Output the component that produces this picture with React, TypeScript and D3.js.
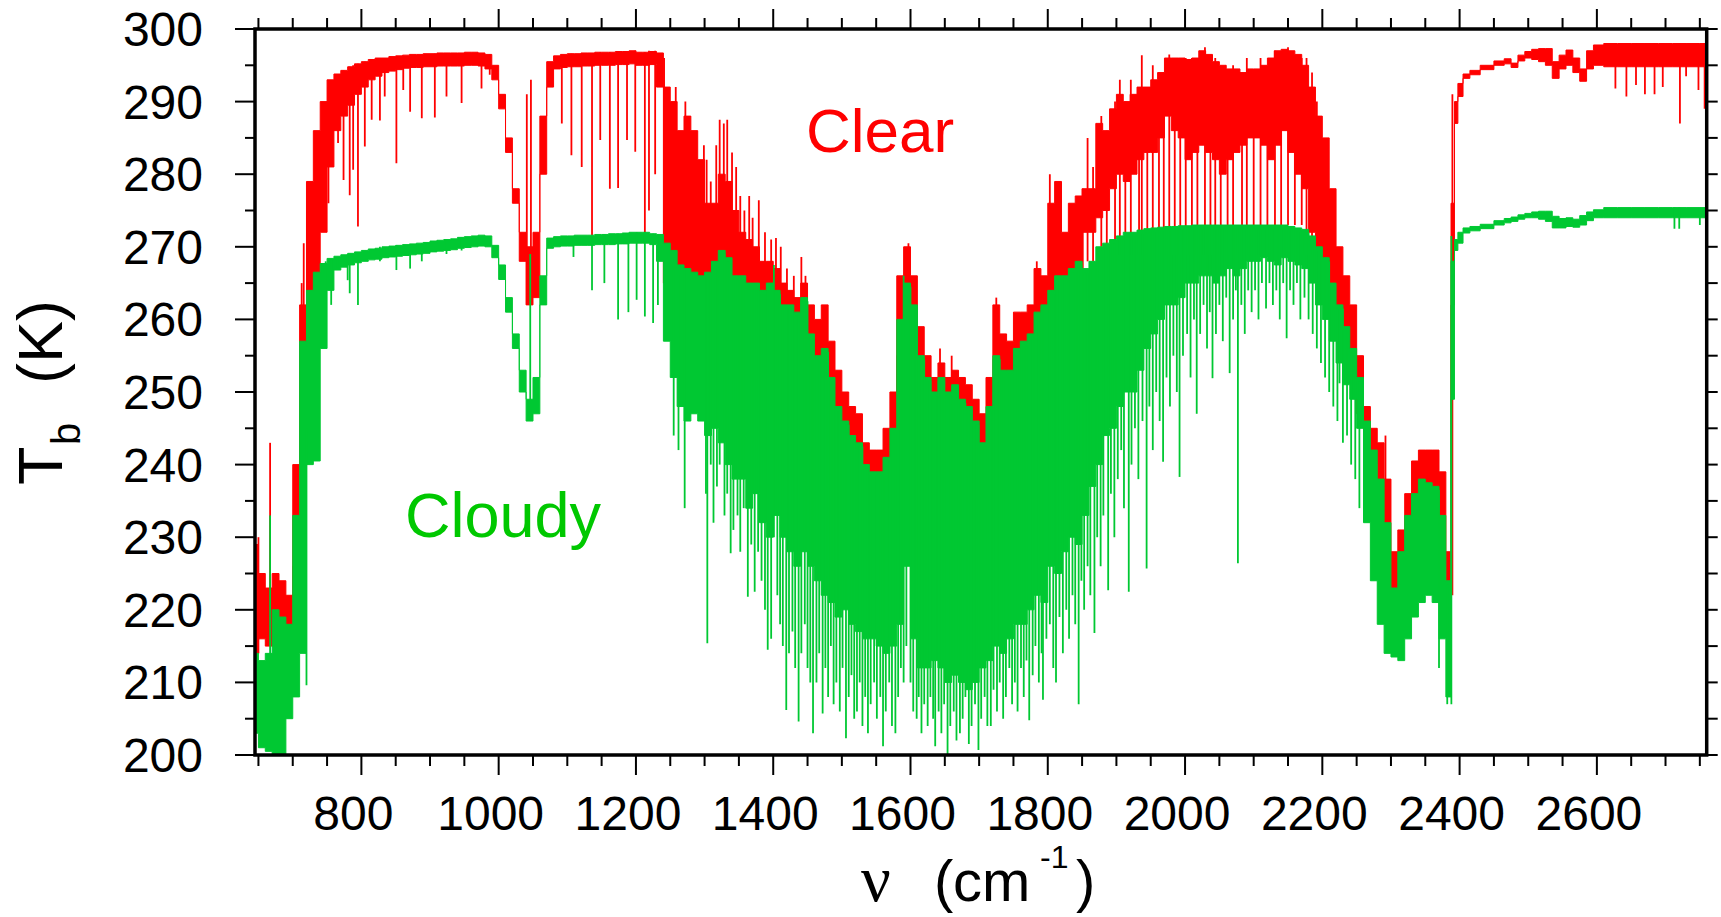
import React from "react";
import * as d3 from "d3";

// wavenumber grid (cm-1), one value per bin
const wavenumber = [
  645, 655, 665, 675, 685, 695, 705, 715, 725, 735,
  745, 755, 765, 775, 785, 795, 805, 815, 825, 835,
  845, 855, 865, 875, 885, 895, 905, 915, 925, 935,
  945, 955, 965, 975, 985, 995, 1005, 1015, 1025, 1035,
  1045, 1055, 1065, 1075, 1085, 1095, 1105, 1115, 1125, 1135,
  1145, 1155, 1165, 1175, 1185, 1195, 1205, 1215, 1225, 1235,
  1245, 1255, 1265, 1275, 1285, 1295, 1305, 1315, 1325, 1335,
  1345, 1355, 1365, 1375, 1385, 1395, 1405, 1415, 1425, 1435,
  1445, 1455, 1465, 1475, 1485, 1495, 1505, 1515, 1525, 1535,
  1545, 1555, 1565, 1575, 1585, 1595, 1605, 1615, 1625, 1635,
  1645, 1655, 1665, 1675, 1685, 1695, 1705, 1715, 1725, 1735,
  1745, 1755, 1765, 1775, 1785, 1795, 1805, 1815, 1825, 1835,
  1845, 1855, 1865, 1875, 1885, 1895, 1905, 1915, 1925, 1935,
  1945, 1955, 1965, 1975, 1985, 1995, 2005, 2015, 2025, 2035,
  2045, 2055, 2065, 2075, 2085, 2095, 2105, 2115, 2125, 2135,
  2145, 2155, 2165, 2175, 2185, 2195, 2205, 2215, 2225, 2235,
  2245, 2255, 2265, 2275, 2285, 2295, 2305, 2315, 2325, 2335,
  2345, 2355, 2365, 2375, 2385,
  2390, 2395, 2400, 2410, 2420, 2440, 2460, 2470, 2480, 2490,
  2500, 2510, 2520, 2530, 2540, 2550, 2560, 2570, 2580, 2590,
  2600, 2620, 2640, 2660, 2680, 2700, 2720, 2740, 2760,
];

// clear sky Tb (K): upper and lower edge of the dense line forest in each bin
const clearMax = [
  229, 225, 223, 225, 224, 222, 240, 262, 279, 286,
  290, 293, 293.8, 294.3, 294.8, 295.2, 295.5, 295.8, 296, 296,
  296.2, 296.3, 296.4, 296.5, 296.5, 296.6, 296.6, 296.7, 296.7, 296.7,
  296.7, 296.8, 296.8, 296.7, 296.5, 295, 291, 285, 278, 272,
  270, 272, 288, 295.5, 296.3, 296.5, 296.6, 296.6, 296.7, 296.7,
  296.8, 296.8, 296.8, 296.9, 296.9, 297, 296.8, 296.8, 296.9, 296.7,
  292, 290, 286, 288, 286, 282, 276, 276, 280, 279,
  275, 272, 271, 270, 268, 268, 267, 265, 264, 263,
  265, 262, 260, 262, 257, 253, 250, 248, 247, 243,
  242, 242, 245, 250, 266, 270, 266, 259, 255, 252,
  254, 252, 253, 252, 251, 249, 247, 252, 262, 258,
  257, 261, 261, 262, 267, 266, 276, 279, 272, 276,
  277, 278, 278, 287, 286, 289, 291, 290, 291, 292,
  292, 293, 294, 296, 296, 296, 295.8, 296, 297, 296.5,
  295.5, 295, 294.5, 294.5, 294, 294.5, 294.5, 295, 296, 297,
  297.2, 297, 296.5, 295, 292, 288, 285, 278, 270, 266,
  262, 255, 248, 245, 243, 238, 228, 231, 236, 240.5,
  242, 242, 242, 239, 228,
  276, 290, 292.5, 293.8, 294.3, 295, 295.6, 295.9, 295.3, 296.4,
  296.9, 297.2, 297.3, 297.3, 295.5, 296.4, 297.1, 296, 294.5, 297,
  297.8, 298, 298, 298, 298, 298, 298, 298, 298,
];
const clearMin = [
  214, 216, 215, 215, 216, 214, 226, 238, 262, 266,
  272, 281, 286, 288, 289.5, 291, 292, 293, 293.5, 294,
  294.2, 294.4, 294.6, 294.7, 294.7, 294.8, 294.8, 294.9, 294.9, 294.9,
  294.9, 295, 295, 294.9, 294.5, 293, 289, 283, 276, 268,
  262, 263, 280, 292, 294.5, 294.7, 294.8, 294.8, 294.9, 294.9,
  295, 295, 295, 295.1, 295.1, 295.2, 295, 295, 295.1, 292,
  265, 264, 262, 262, 261, 261, 261, 263, 264, 263,
  261, 261, 260, 260, 259, 260, 259, 257, 257, 256,
  258, 253, 250, 251, 247, 243, 241, 239, 238, 236,
  235, 235, 238, 242, 255, 260, 257, 250, 247, 245,
  247, 245, 246, 244, 243, 241, 238, 243, 250, 248,
  248, 251, 252, 253, 256, 257, 262, 264, 264, 265,
  266, 272, 272, 274, 275, 278, 280, 279, 280, 282,
  283, 283, 285, 288, 286, 285, 282, 283, 284, 283,
  282, 280, 282, 283, 284, 285, 285, 284, 282, 284,
  286, 283, 280, 278, 272, 268, 265, 262, 258, 255,
  252, 247, 243, 240, 236, 222, 221, 222, 225, 228,
  230, 230, 229, 226, 222,
  262, 287, 290.7, 293.2, 293.7, 294.4, 295, 295.2, 294.7, 295.6,
  296, 295.8, 295.5, 295, 293.2, 294.5, 295, 294, 292.8, 294.5,
  295, 294.8, 294.8, 294.8, 294.8, 294.8, 294.8, 294.8, 294.8,
];

// cloudy sky Tb (K)
const cloudyMax = [
  214, 213, 214, 220, 219, 218, 233, 257, 264, 266.5,
  267.7, 268.4, 268.7, 268.9, 269.1, 269.3, 269.5, 269.7, 269.8, 270,
  270.1, 270.2, 270.3, 270.4, 270.5, 270.6, 270.8, 270.9, 271, 271.1,
  271.3, 271.4, 271.5, 271.6, 271.5, 270.2, 267.5, 263, 258, 253,
  249, 252, 266, 271.2, 271.4, 271.5, 271.5, 271.6, 271.6, 271.6,
  271.7, 271.7, 271.8, 271.8, 271.9, 272, 272, 272, 271.8, 271.7,
  270.5, 269.5, 267.5, 267, 266.5, 266, 266.5, 268, 269.5, 268.5,
  266, 266, 265, 265, 264, 265, 264, 262, 262, 261,
  263, 258, 255, 256, 252, 248, 246, 244, 243, 240,
  239, 239, 241, 245, 260, 265, 262, 255, 252, 250,
  252, 250, 251, 249, 248, 246, 243, 248, 255, 253,
  253, 256, 257, 258, 261, 262, 264, 266, 266, 267,
  268, 267, 268, 270, 270.5, 271, 271.5, 272, 272, 272.3,
  272.5, 272.6, 272.7, 272.8, 272.8, 272.9, 272.9, 273, 273, 273,
  273, 273, 273, 273, 273, 273, 273, 273, 273, 273,
  273, 272.8, 272.6, 272.4, 271.5, 270, 268.5, 265, 262, 259,
  256, 252, 246, 242, 238, 232, 223, 228, 233, 236,
  238, 237.5, 237, 233, 224,
  268, 271, 272, 272.6, 272.8, 273.1, 273.6, 273.9, 274.1, 274.4,
  274.6, 274.8, 274.9, 274.9, 274.2, 273.9, 274, 273.8, 274.3, 274.8,
  275.1, 275.4, 275.4, 275.4, 275.4, 275.4, 275.4, 275.4, 275.4,
];
const cloudyMin = [
  203, 201, 200.5, 200, 200, 205, 208, 214, 240, 240.5,
  256, 264, 266.8, 267.2, 267.5, 267.8, 268, 268.2, 268.3, 268.5,
  268.6, 268.7, 268.8, 268.9, 269, 269.1, 269.3, 269.4, 269.5, 269.6,
  269.8, 269.9, 270, 270.1, 270, 268.5, 265.5, 261, 256, 250,
  246, 247, 262, 269.8, 270, 270.1, 270.1, 270.2, 270.2, 270.2,
  270.3, 270.3, 270.3, 270.4, 270.4, 270.5, 270.5, 270.5, 270.3, 268,
  257, 252, 248, 246, 247, 246, 244, 245, 243, 240,
  238, 238, 234, 236, 232, 230, 233, 230, 228, 226,
  228, 226, 224, 222, 221, 219, 220, 218, 217, 216,
  216, 215, 214, 215, 218, 226, 216, 212, 212, 213,
  212, 210, 211, 210, 209, 210, 212, 213, 215, 214,
  216, 218, 218, 220, 222, 221, 226, 225, 228, 230,
  229, 233, 237, 240, 244, 245, 248, 250, 250, 253,
  256, 258, 260, 262, 262, 263, 265, 265, 266, 266,
  265, 266, 267, 266, 267, 268, 268, 268.5, 268, 267.5,
  268.5, 268, 267.5, 267, 265, 262, 260, 257, 254, 251,
  249, 245, 232, 224, 218, 214, 213.5, 213, 216, 219,
  221, 222, 221, 216, 208,
  249, 269.5, 270.5, 271.9, 272.2, 272.5, 273, 273.3, 273.5, 273.8,
  274, 274, 273.8, 273.5, 272.6, 272.6, 272.8, 272.7, 273, 273.6,
  274, 274, 274, 274, 274, 274, 274, 274, 274,
];

// single strong lines reaching past the dense band: [wavenumber, low Tb, high Tb]
const clearLines = [
  [650, 214, 230], [667, 220, 243], [713, 240, 265], [716, 245, 270.5], [721, 255, 275],
  [752, 276, 292], [766, 284.3, 293.5], [774, 279.2, 294.3], [783, 277.1, 294.8],
  [788, 280.6, 295], [795, 272.8, 295.2], [805, 283.8, 295.5], [815, 287.5, 295.8],
  [827, 287.4, 296], [834, 290.7, 296], [851, 281.5, 296.2], [861, 291.6, 296.3],
  [871, 288.6, 296.4], [888, 287.7, 296.5], [907, 287.8, 296.6], [924, 290.7, 296.7],
  [946, 289.8, 296.7], [975, 291.8, 296.7], [987, 293.7, 296.5], [1041, 262, 291],
  [1047, 262, 293], [1092, 287, 296.4], [1106, 282.6, 296.6], [1121, 281, 296.7],
  [1136, 271.6, 296.7], [1148, 284.7, 296.8], [1162, 278, 296.8], [1174, 278.1, 296.9],
  [1187, 284.7, 296.9], [1199, 283.1, 297], [1213, 271.9, 296.8], [1219, 275, 297],
  [1228, 280, 297], [1241, 270, 296], [1258, 265, 292], [1272, 265, 290],
  [1299, 262, 284], [1303, 268, 282], [1309, 268, 279], [1317, 270, 284],
  [1322, 270, 287.5], [1328, 270, 287], [1333, 270, 287.5], [1340, 268, 283],
  [1346, 268, 281], [1352, 266, 277], [1358, 266, 275], [1365, 266, 277],
  [1370, 265, 274], [1379, 265, 276.4], [1388, 264, 272], [1397, 264, 271],
  [1404, 263, 271.2], [1411, 262, 270], [1420, 261, 267], [1430, 261, 266],
  [1441, 255, 268.6], [1447, 260, 266], [1495, 242, 252.6],
  [1597, 255, 270.5], [1643, 245, 256], [1660, 245, 255], [1725, 250, 263],
  [1784, 255, 268], [1803, 262, 280], [1851, 266, 278], [1858, 268, 285],
  [1866, 268, 281], [1878, 270, 288], [1886, 270, 286], [1898, 271, 290],
  [1905, 271, 293], [1913, 271, 290], [1921, 271, 293], [1933, 272, 292],
  [1937, 272, 296.4], [1945, 272, 291], [1953, 272, 295], [1962, 272, 292],
  [1969, 272, 294], [1977, 272, 296.5], [1985, 272, 296], [1993, 272, 291],
  [2001, 272, 296], [2010, 272, 296], [2018, 272, 293], [2029, 273, 297.5],
  [2037, 273, 295], [2044, 273, 296], [2052, 273, 292], [2062, 273, 294],
  [2070, 273, 295], [2083, 273, 293], [2090, 273, 296], [2100, 273, 292],
  [2110, 273, 296], [2120, 273, 294], [2131, 273, 297], [2140, 273, 295],
  [2150, 273, 297.5], [2160, 273, 296], [2170, 273, 296], [2177, 271, 296],
  [2185, 270, 294], [2192, 266, 290], [2292, 232, 244], [2389.5, 222, 291],
  [2627, 291.8, 298], [2643, 290.7, 298], [2657, 292.3, 298], [2670, 291, 298],
  [2684, 291, 298], [2696, 292, 298], [2721, 287, 298], [2730, 293.5, 298],
  [2748, 291.6, 298], [2757, 289, 298],
];
const cloudyLines = [
  [667, 212, 233], [720, 209.6, 245], [748, 258, 268], [756, 262, 268.3],
  [765, 267.2, 268.6], [780, 265.4, 269], [783, 263.6, 269], [795, 262, 269.3],
  [827, 268, 270], [851, 266.8, 270.2], [871, 267, 270.4], [888, 268, 270.5],
  [924, 269, 270.9], [946, 269.5, 271.3], [1046, 246, 269], [1109, 268.6, 271.5],
  [1136, 264, 271.6], [1154, 265, 271.7], [1174, 260, 271.8], [1189, 261, 271.9],
  [1201, 262.7, 272], [1213, 260.4, 272], [1225, 259.5, 271.8], [1232, 262, 271.7],
  [1255, 244, 268], [1262, 242, 266], [1271, 234, 267], [1401, 230, 267.5],
  [1590, 210, 266], [2388, 207, 271.5], [2713, 272.5, 275.4], [2720, 272.5, 275.4],
  [2750, 273, 275.4],
];
// cloudy lines hanging down from the band: [wavenumber, low Tb]
const cloudyDrops = [
  [1302, 236], [1304, 215.4], [1309, 240], [1313, 232], [1318, 237], [1322, 240],
  [1329, 233], [1333, 236], [1338, 227.8], [1342, 231], [1348, 233], [1352, 228],
  [1357, 234], [1363, 221.8], [1368, 229], [1373, 222.5], [1378, 228], [1383, 224],
  [1388, 220], [1392, 214.5], [1397, 216], [1406, 222], [1410, 218], [1414, 215],
  [1419, 206.2], [1423, 214], [1428, 217], [1432, 212], [1437, 204.6], [1441, 214],
  [1446, 218], [1450, 212], [1454, 210], [1458, 203], [1463, 210], [1467, 214],
  [1472, 205.7], [1476, 212], [1480, 208], [1484, 215], [1488, 207], [1492, 210],
  [1497, 206], [1501, 212], [1506, 202.3], [1510, 208], [1514, 211], [1518, 205],
  [1522, 206], [1526, 210], [1530, 204], [1534, 208], [1538, 203], [1542, 207],
  [1547, 210], [1551, 205], [1556, 208], [1560, 201.2], [1564, 206], [1569, 210],
  [1573, 204], [1578, 203], [1582, 208], [1586, 212], [1594, 215], [1600, 210],
  [1604, 206], [1609, 205], [1612, 208], [1616, 203], [1620, 207], [1625, 204],
  [1629, 208], [1633, 205], [1636, 201.2], [1641, 206], [1645, 203], [1649, 207],
  [1654, 200], [1658, 204], [1663, 206], [1667, 202], [1672, 203], [1676, 205],
  [1680, 208], [1685, 201.5], [1689, 204], [1694, 207], [1699, 200.7], [1703, 205],
  [1708, 208], [1712, 204], [1717, 204], [1721, 209], [1726, 206], [1730, 210],
  [1735, 205], [1739, 208], [1744, 212], [1748, 207], [1752, 210], [1756, 206],
  [1761, 212], [1765, 208], [1769, 213], [1773, 204.8], [1778, 211], [1782, 215],
  [1787, 210], [1791, 214], [1793, 207.6], [1798, 216], [1803, 218], [1808, 212],
  [1812, 210], [1817, 219], [1822, 214], [1827, 220], [1831, 216], [1836, 222],
  [1840, 218], [1845, 207], [1849, 224], [1853, 220], [1858, 226], [1862, 222],
  [1868, 216.8], [1872, 230], [1877, 226], [1881, 233], [1888, 222.7], [1892, 236],
  [1897, 230], [1902, 238], [1907, 242], [1911, 234], [1918, 222.5], [1922, 240],
  [1927, 245], [1932, 238], [1938, 246], [1944, 225.7], [1948, 248], [1953, 242],
  [1958, 250], [1963, 246], [1968, 240.4], [1973, 252], [1978, 248], [1983, 255],
  [1988, 250], [1992, 238.3], [1997, 255], [2003, 258], [2008, 252], [2013, 260],
  [2017, 247], [2022, 258], [2027, 262], [2032, 256], [2036, 261], [2040, 251.9],
  [2045, 258], [2050, 262], [2055, 257], [2060, 263], [2065, 252.6], [2070, 260],
  [2074, 264], [2077, 226.4], [2082, 262], [2087, 258], [2092, 264], [2097, 261],
  [2102, 264], [2107, 260], [2112, 265], [2118, 261.5], [2123, 265], [2128, 262],
  [2133, 264], [2138, 260], [2143, 265], [2148, 257.4], [2153, 264], [2158, 262],
  [2163, 265], [2168, 260], [2174, 263], [2180, 260], [2186, 258], [2192, 256],
  [2198, 254], [2204, 252], [2210, 250], [2216, 248], [2222, 246], [2225, 251.2],
  [2230, 243], [2236, 244], [2242, 240], [2248, 238], [2254, 234], [2370, 212],
  [2382, 207],
];

const xTickLabels = [800, 1000, 1200, 1400, 1600, 1800, 2000, 2200, 2400, 2600];
const yTickLabels = [200, 210, 220, 230, 240, 250, 260, 270, 280, 290, 300];

const RED = "#ff0000";
const GREEN = "#00c832";
const SANS = "'Liberation Sans', Arial, Helvetica, sans-serif";

export default function App() {
  const width = 1721;
  const height = 917;
  const plotLeft = 255;
  const plotRight = 1706.7;
  const plotTop = 29;
  const plotBottom = 755;

  const x = d3.scaleLinear().domain([645, 2760]).range([plotLeft, plotRight]);
  const y = d3.scaleLinear().domain([200, 300]).range([plotBottom, plotTop]);

  const band = (hi: number[], lo: number[]) =>
    d3
      .area<number>()
      .x((d) => x(d))
      .y0((_, i) => y(lo[i]))
      .y1((_, i) => y(hi[i]))
      .curve(d3.curveStep)(wavenumber) as string;

  const minorX = d3.range(650, 2760, 50).filter((v) => v % 200 !== 0);
  const minorY = d3.range(205, 300, 10);
  const rightY = d3.range(200, 301, 5);

  const spikes = (lines: number[][], color: string, key: string) =>
    lines.map(([nu, lo, hi], i) => (
      <line
        key={key + i}
        x1={x(nu)}
        x2={x(nu)}
        y1={y(lo)}
        y2={y(hi)}
        stroke={color}
        strokeWidth={1.8}
      />
    ));

  // a drop starts at the top of the cloudy band bin it falls in
  const drops = cloudyDrops.map(([nu, lo]) => {
    const i = d3.leastIndex(wavenumber, (w) => Math.abs(w - nu)) ?? 0;
    return [nu, lo, cloudyMax[i] - 0.5];
  });

  return (
    <svg
      width={width}
      height={height}
      style={{ position: "absolute", left: 0, top: 0, background: "#fff" }}
    >
      <defs>
        <clipPath id="plot-area">
          <rect x={plotLeft} y={plotTop} width={plotRight - plotLeft} height={plotBottom - plotTop} />
        </clipPath>
      </defs>

      <g clipPath="url(#plot-area)">
        <path d={band(clearMax, clearMin)} fill={RED} stroke={RED} strokeWidth={1} />
        {spikes(clearLines, RED, "c")}
        <path d={band(cloudyMax, cloudyMin)} fill={GREEN} stroke={GREEN} strokeWidth={1} />
        {spikes(cloudyLines, GREEN, "g")}
        {spikes(drops, GREEN, "d")}
      </g>

      {/* frame */}
      <rect
        x={plotLeft}
        y={plotTop}
        width={plotRight - plotLeft}
        height={plotBottom - plotTop}
        fill="none"
        stroke="#000"
        strokeWidth={3.5}
      />

      {/* ticks on all four sides */}
      <g stroke="#000" strokeWidth={2}>
        {xTickLabels.map((v) => (
          <React.Fragment key={"xM" + v}>
            <line x1={x(v)} x2={x(v)} y1={plotBottom} y2={plotBottom + 20} />
            <line x1={x(v)} x2={x(v)} y1={plotTop} y2={plotTop - 20} />
          </React.Fragment>
        ))}
        {minorX.map((v) => (
          <React.Fragment key={"xm" + v}>
            <line x1={x(v)} x2={x(v)} y1={plotBottom} y2={plotBottom + 11} />
            <line x1={x(v)} x2={x(v)} y1={plotTop} y2={plotTop - 11} />
          </React.Fragment>
        ))}
        {yTickLabels.map((v) => (
          <line key={"yM" + v} x1={plotLeft - 20} x2={plotLeft} y1={y(v)} y2={y(v)} />
        ))}
        {minorY.map((v) => (
          <line key={"ym" + v} x1={plotLeft - 10} x2={plotLeft} y1={y(v)} y2={y(v)} />
        ))}
        {rightY.map((v) => (
          <line key={"yr" + v} x1={plotRight} x2={plotRight + 11} y1={y(v)} y2={y(v)} />
        ))}
      </g>

      {/* tick labels */}
      <g fontFamily={SANS} fontSize={48} fill="#000">
        {xTickLabels.map((v) => (
          <text key={"xl" + v} x={x(v) - 8} y={830} textAnchor="middle">
            {v}
          </text>
        ))}
        {yTickLabels.map((v) => (
          <text key={"yl" + v} x={203} y={y(v) + 17} textAnchor="end">
            {v}
          </text>
        ))}
      </g>

      {/* axis titles */}
      <text x={861} y={901} fontFamily="'Liberation Serif', 'DejaVu Serif', serif" fontSize={66}>
        ν
      </text>
      <text y={901} fontFamily={SANS} fontSize={58}>
        <tspan x={934}>(</tspan>
        <tspan x={953}>cm</tspan>
        <tspan x={1040} y={868} fontSize={32}>
          -1
        </tspan>
        <tspan x={1076} y={901}>
          )
        </tspan>
      </text>
      <g transform="translate(62,485) rotate(-90)" fontFamily={SANS}>
        <text x={0} y={0} fontSize={63}>
          T
        </text>
        <text x={40} y={18} fontSize={40}>
          b
        </text>
        <text x={101} y={0} fontSize={63}>
          (K)
        </text>
      </g>

      {/* curve labels */}
      <text x={806} y={152} fontFamily={SANS} fontSize={62} fill={RED}>
        Clear
      </text>
      <text x={405} y={537} fontFamily={SANS} fontSize={63} fill="#00c800">
        Cloudy
      </text>
    </svg>
  );
}
